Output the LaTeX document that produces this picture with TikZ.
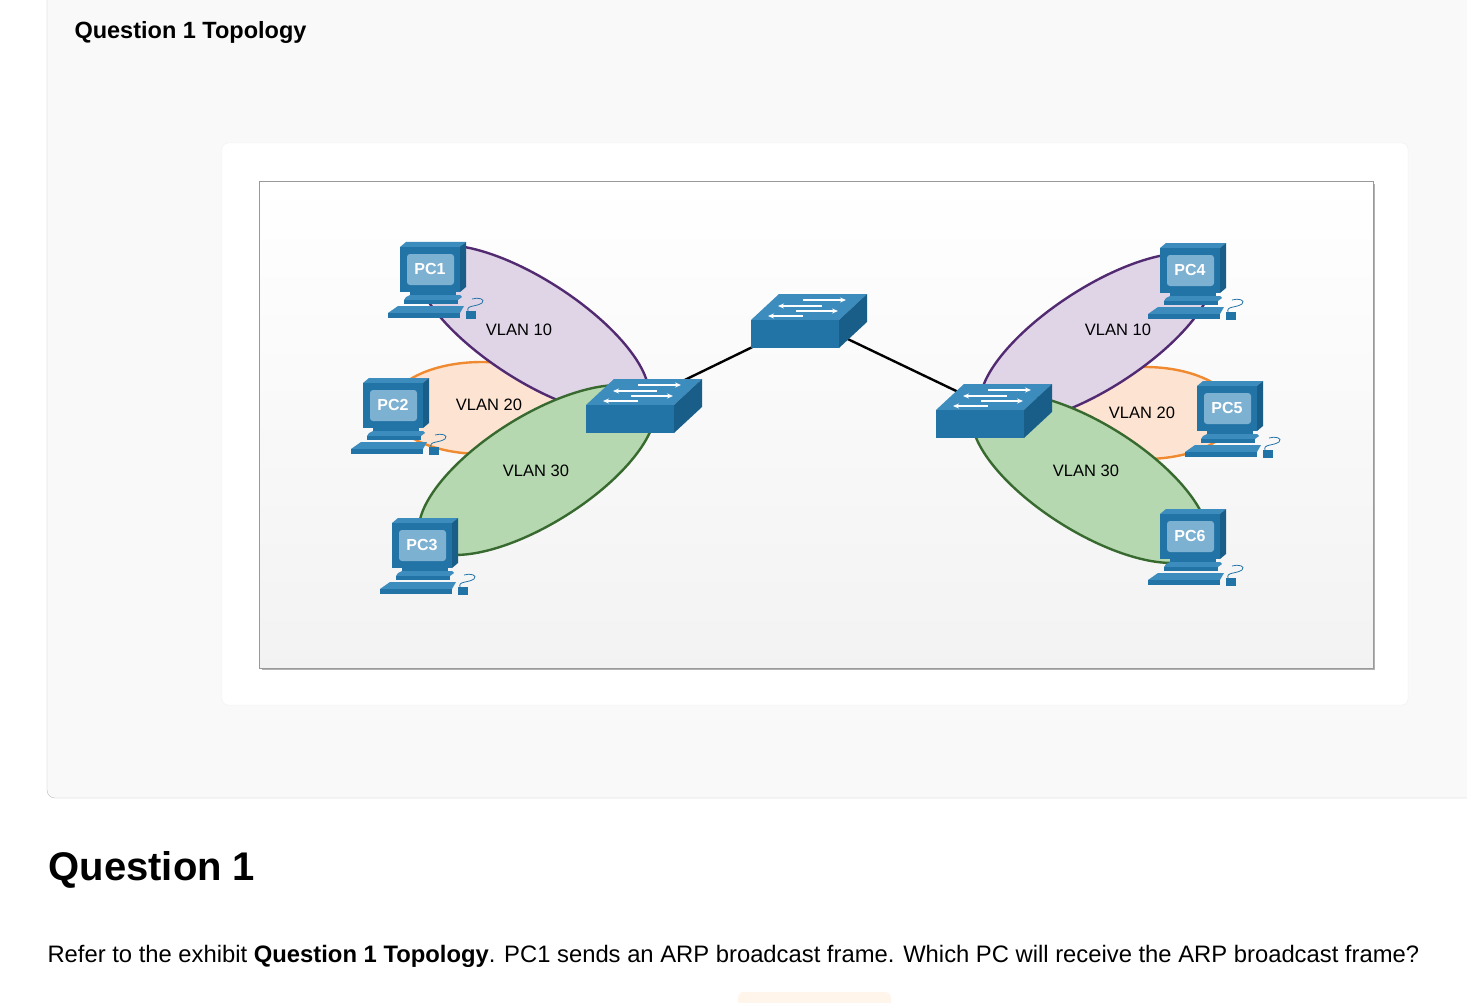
\documentclass[tikz,border=0pt]{standalone}
\usepackage{fontspec}
\setmainfont{Liberation Sans}
\usetikzlibrary{arrows.meta}
\definecolor{swF}{HTML}{2374A6}
\definecolor{swT}{HTML}{3C8CBE}
\definecolor{swS}{HTML}{195E89}
\definecolor{scr}{HTML}{7DB1D2}
\definecolor{v10f}{HTML}{E0D4E7}\definecolor{v10d}{HTML}{522A72}
\definecolor{v20f}{HTML}{FDE4D2}\definecolor{v20d}{HTML}{F08A30}
\definecolor{v30f}{HTML}{B5D8B0}\definecolor{v30d}{HTML}{386A30}
\tikzset{
 vlan/.style={font=\fontsize{16.5}{16}\selectfont},
 ell/.style={line width=2.4},
 pclabel/.style={text=white,font=\bfseries\fontsize{16}{16}\selectfont},
 pc/.pic={
  \fill[swT] (-30,-22)--(-24,-27)--(36,-27)--(30,-22)--cycle;
  \fill[swS] (30,-22)--(36,-27)--(36,18)--(30,23)--cycle;
  \fill[swF] (-30,-22) rectangle (30,23);
  \fill[scr,rounded corners=3] (-23,-15) rectangle (24,16);
  \node[pclabel] at (0,0) {\tikzpictext};
  \fill[swF] (-20,23) rectangle (26,28);
  \fill[swT] (-24,28)--(-20,26)--(30,26)--(32,28)--(28,31)--(-26,31)--cycle;
  \fill[swF] (-26,31) rectangle (28,35);
  \fill[swT] (-42,44)--(-32,37)--(34,37)--(30,44)--cycle;
  \fill[swF] (-42,44) rectangle (30,49);
  \fill[swF] (36,42) rectangle (46,50);
  \draw[swF,line width=0.8] (38,42) .. controls (36,36) and (46,38) .. (52,34) .. controls (56,30) and (48,28) .. (42,30);
 },
 switch/.pic={
  \fill[swT] (-57,0)--(-29,-26)--(59,-26)--(31,0)--cycle;
  \fill[swS] (31,0)--(59,-26)--(59,2)--(31,28)--cycle;
  \fill[swF] (-57,0) rectangle (31,28);
  \foreach \yy/\xa/\xb/\d in {-20/-5/38/1,-14/-30/14/-1,-9/-12/30/1,-4/-40/-5/-1}{
   \ifnum\d=1
    \draw[white,line width=1.8,-{Stealth[length=6,width=5]}] (\xa,\yy)--(\xb,\yy);
   \else
    \draw[white,line width=1.8,{Stealth[length=6,width=5]}-] (\xa,\yy)--(\xb,\yy);
   \fi}
 }
}
\begin{document}
\begin{tikzpicture}[x=1pt,y=-1pt]
\useasboundingbox (0,0) rectangle (1467,1003);
\fill[white] (0,0) rectangle (1467,1003);
% outer panel
\fill[black!2.5,rounded corners=8] (47,-20) rectangle (1490,798);
\draw[black!25,rounded corners=8] (47,-20) -- (47,798) -- (1490,798);
\node[anchor=west,font=\bfseries\fontsize{23.5}{24}\selectfont] (t1) at (71,32) {Question 1 Topology};
% card
\fill[white,rounded corners=6,draw=black!6] (222,143) rectangle (1408,705);
% diagram box
\fill[black!30] (262,184) rectangle (1375,670);
\shade[top color=white,bottom color=black!5] (259,181) rectangle (1373,668);
\draw[black!40] (259,181) rectangle (1373,668);
% ellipses left
\draw[v20d,fill=v20f,ell] (482,408) ellipse[x radius=92,y radius=46];
\draw[v10d,fill=v10f,ell,rotate around={-33:(532,330)}] (532,330) ellipse[x radius=135,y radius=50];
\draw[v30d,fill=v30f,ell,rotate around={32:(537,470)}] (537,470) ellipse[x radius=135,y radius=54];
% ellipses right
\draw[v20d,fill=v20f,ell] (1145,413) ellipse[x radius=90,y radius=46];
\draw[v10d,fill=v10f,ell,rotate around={33:(1097,338)}] (1097,338) ellipse[x radius=135,y radius=50];
\draw[v30d,fill=v30f,ell,rotate around={-32:(1090,478)}] (1090,478) ellipse[x radius=135,y radius=54];
\node[vlan] (l10) at (519,330) {VLAN 10};
\node[vlan] (l20) at (489,405) {VLAN 20};
\node[vlan] (l30) at (536,471) {VLAN 30};
\node[vlan] (r10) at (1118,330) {VLAN 10};
\node[vlan] (r20) at (1142,413) {VLAN 20};
\node[vlan] (r30) at (1086,471) {VLAN 30};
% switches and links
\coordinate (s1) at (660,392);
\coordinate (s2) at (808,320);
\coordinate (s3) at (975,400);
\draw[line width=2.4] (s1)--(s2)--(s3);
\pic at (643,405) {switch};
\pic at (808,320) {switch};
\pic at (993,410) {switch};
% PCs
\pic[pic text=PC1] at (430,269) {pc};
\pic[pic text=PC2] at (393,405) {pc};
\pic[pic text=PC3] at (422,545) {pc};
\pic[pic text=PC4] at (1190,270) {pc};
\pic[pic text=PC5] at (1227,408) {pc};
\pic[pic text=PC6] at (1190,536) {pc};
% question
\node[anchor=west,font=\bfseries\fontsize{40}{40}\selectfont] (q) at (45,870) {Question 1};
\node[anchor=west,font=\fontsize{23.8}{24}\selectfont] (body) at (44,956) {Refer to the exhibit \textbf{Question 1 Topology}. PC1 sends an ARP broadcast frame. Which PC will receive the ARP broadcast frame?};
\fill[orange!8,rounded corners=6] (738,992) rectangle (891,1010);
\end{tikzpicture}
\end{document}
